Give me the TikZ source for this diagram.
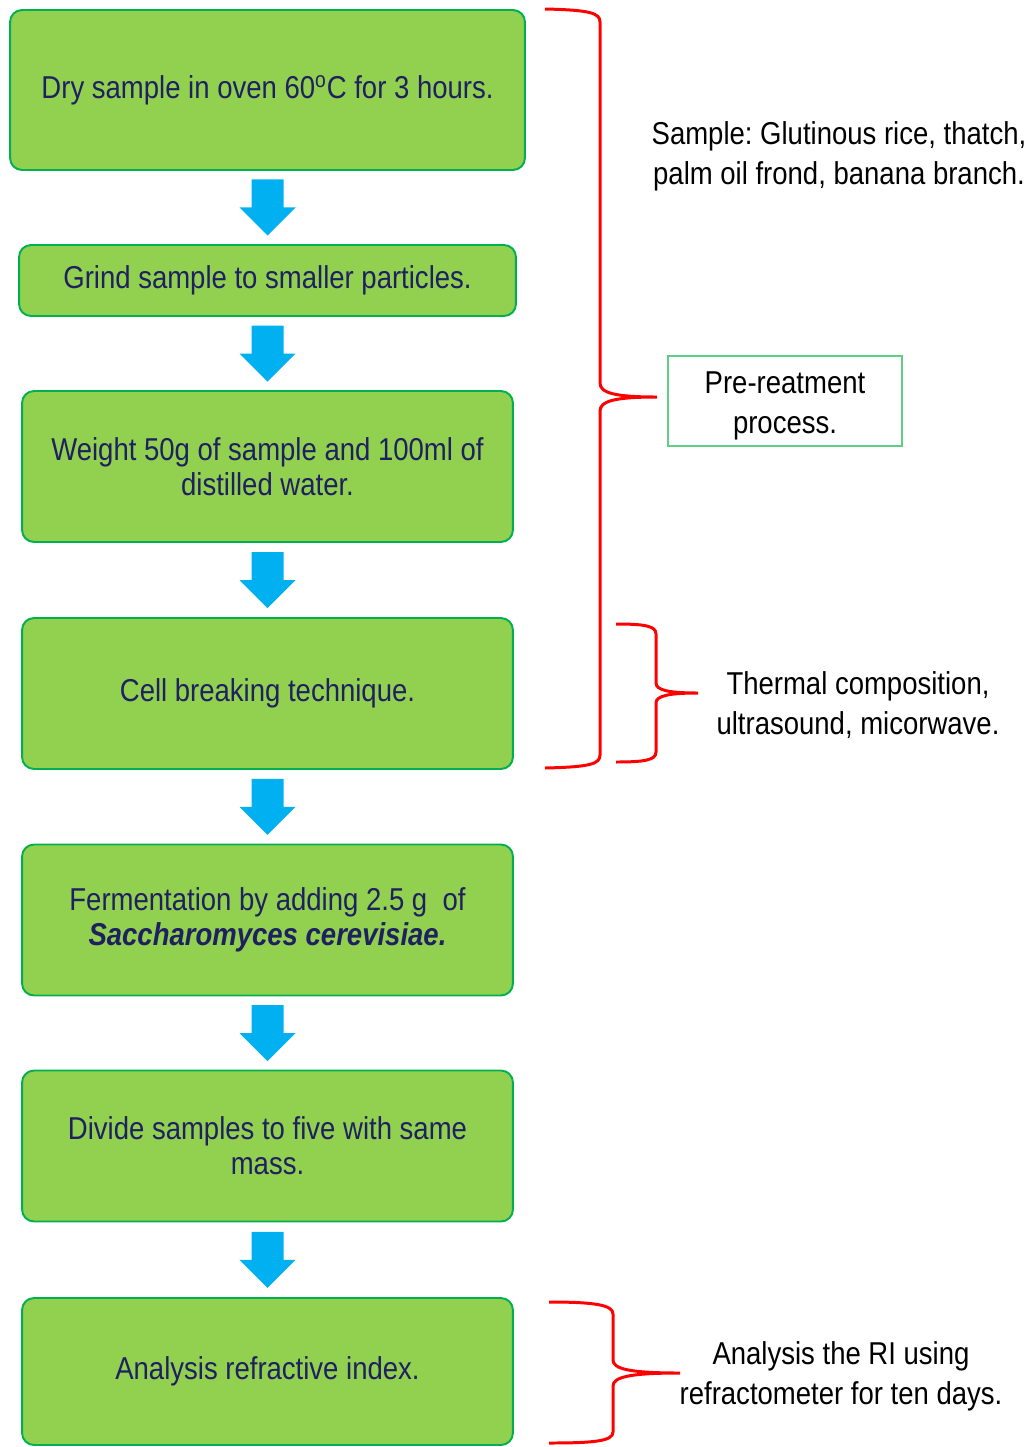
\documentclass[tikz,border=0pt]{standalone}
\usepackage{fontspec}
\setmainfont{Liberation Sans}[FakeStretch=0.87]
\frenchspacing
\usetikzlibrary{calc}
\definecolor{boxgreen}{HTML}{92D050}
\definecolor{edgegreen}{HTML}{00B050}
\definecolor{framegreen}{HTML}{5FCF85}
\definecolor{inknavy}{HTML}{1F2060}
\definecolor{arrowblue}{HTML}{00B0F0}

\begin{document}
\begin{tikzpicture}[x=0.02cm,y=-0.02cm,
	stepbox/.style={draw=edgegreen, line width=1.1pt, fill=boxgreen, rounded corners=0.24cm,
		text=inknavy, align=center, inner sep=0pt, font=\fontsize{18}{19.9}\selectfont},
	sidetext/.style={align=center, font=\fontsize{18}{22.8}\selectfont},
	curly/.style={draw=red, line width=1.7pt},
	flowarrow/.style={fill=arrowblue}]
	\useasboundingbox (0,0) rectangle (1034,1447);

	% steps
	\node[stepbox, minimum width=10.3cm, minimum height=3.2cm] (dry) at (267.5,90)
		{Dry sample in oven 60\textsuperscript{o}C for 3 hours.};
	\node[stepbox, minimum width=9.94cm, minimum height=1.42cm] (grind) at (267.5,280.5)
		{Grind sample to smaller particles.};
	\node[stepbox, minimum width=9.82cm, minimum height=3.02cm] (weigh) at (267.5,466.5)
		{Weight 50g of sample and 100ml of\\distilled water.};
	\node[stepbox, minimum width=9.82cm, minimum height=3.02cm] (cell) at (267.5,693.5)
		{Cell breaking technique.};
	\node[stepbox, minimum width=9.82cm, minimum height=3.02cm] (ferm) at (267.5,920)
		{Fermentation by adding 2.5 g\ \ of\\\textbf{\textit{Saccharomyces cerevisiae.}}};
	\node[stepbox, minimum width=9.82cm, minimum height=3.02cm] (divide) at (267.5,1146)
		{Divide samples to five with same\\mass.};
	\node[stepbox, minimum width=9.82cm, minimum height=2.94cm] (analysis) at (267.5,1371.5)
		{Analysis refractive index.};

	\foreach \a/\b in {dry/grind, grind/weigh, weigh/cell, cell/ferm, ferm/divide, divide/analysis} {
		\path ($(\a.south)!0.5!(\b.north)$) coordinate (m);
		\fill[flowarrow] (m) +(-16,-28) -- +(16,-28) -- +(16,0) -- +(28,0) -- +(0,28)
			-- +(-28,0) -- +(-16,0) -- cycle;
	}

	% notes on the right
	\node[sidetext] (samples) at (839,156) {Sample: Glutinous rice, thatch,\\palm oil frond, banana branch.};
	\node[draw=framegreen, line width=0.8pt, minimum width=4.68cm, minimum height=1.8cm]
		(pre) at (785,401) {};
	\node[sidetext] (pretext) at ($(pre)+(0,5)$) {Pre-reatment\\process.};
	\node[sidetext] (thermal) at (858,705) {Thermal composition,\\ultrasound, micorwave.};
	\node[sidetext] (ri) at (841,1376) {Analysis the RI using\\refractometer for ten days.};

	% braces
	\draw[curly] (545,9) .. controls (590,10) and (600,13) .. (600,22) -- (600,383)
		.. controls (600,393) and (615,397) .. (657,397)
		.. controls (615,397) and (600,401) .. (600,411) -- (600,755)
		.. controls (600,764) and (590,767) .. (545,768);
	\draw[curly] (616,624) .. controls (645,624) and (656,626) .. (656,634) -- (656,683)
		.. controls (656,690) and (668,693) .. (698,693)
		.. controls (668,693) and (656,696) .. (656,703) -- (656,752)
		.. controls (656,760) and (645,762) .. (616,762);
	\draw[curly] (549,1302) .. controls (595,1302) and (613,1305) .. (613,1314) -- (613,1360)
		.. controls (613,1369) and (630,1373) .. (680,1373)
		.. controls (630,1373) and (613,1377) .. (613,1386) -- (613,1432)
		.. controls (613,1441) and (595,1443) .. (549,1443);
\end{tikzpicture}
\end{document}
